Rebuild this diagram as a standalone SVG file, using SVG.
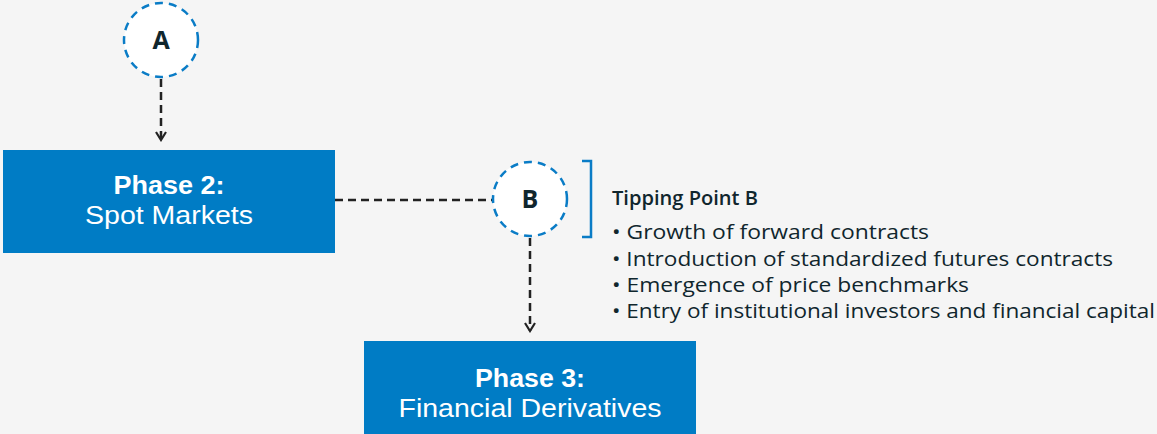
<svg xmlns="http://www.w3.org/2000/svg" width="1157" height="434" viewBox="0 0 1157 434">
<style>
.box{fill:#007cc5}
.circ{fill:#ffffff;stroke:#0a7cc6;stroke-width:2.5;stroke-dasharray:8 6}
.t1{font-family:"Liberation Sans",Arial,sans-serif;font-size:26px;fill:#ffffff;text-anchor:middle}
.b{font-weight:bold}
.lbl{font-family:"Open Sans",Lato,sans-serif;font-size:25px;font-weight:bold;fill:#10262d;text-anchor:middle}
.conn{fill:none;stroke:#222222;stroke-width:2.5;stroke-dasharray:8 5}
.txt{font-family:"Open Sans",Lato,sans-serif;font-size:20px;fill:#10262d}
</style>
<defs>
<marker id="arr" viewBox="0 0 12 12" refX="10" refY="6" markerWidth="12" markerHeight="12" markerUnits="userSpaceOnUse" orient="auto">
<path d="M2,1 L10,6 L2,11" fill="none" stroke="#222222" stroke-width="2.2"/>
</marker>
</defs>
<rect width="1157" height="434" fill="#f5f5f5"/>
<g id="connectors">
<line class="conn" x1="161" y1="79" x2="161" y2="140" marker-end="url(#arr)"/>
<line class="conn" x1="335" y1="200" x2="492" y2="200"/>
<line class="conn" x1="530" y1="238" x2="530" y2="331" marker-end="url(#arr)"/>
</g>
<g id="nodeA">
<circle class="circ" cx="161" cy="40" r="37"/>
<text class="lbl" x="161" y="49">A</text>
</g>
<g id="phase2">
<rect class="box" x="3" y="150" width="332" height="103"/>
<text class="t1 b" x="169" y="194" textLength="111" lengthAdjust="spacingAndGlyphs">Phase 2:</text>
<text class="t1" x="169" y="224" textLength="168" lengthAdjust="spacingAndGlyphs">Spot Markets</text>
</g>
<g id="nodeB">
<circle class="circ" cx="530" cy="199" r="37"/>
<text class="lbl" x="530" y="208">B</text>
</g>
<g id="tipping">
<path d="M582,161 H591 V237 H582" fill="none" stroke="#0a7cc6" stroke-width="2.5"/>
<text class="txt" x="612" y="205" style="font-weight:600" textLength="146" lengthAdjust="spacingAndGlyphs">Tipping Point B</text>
<text class="txt" x="612" y="239" textLength="317" lengthAdjust="spacingAndGlyphs">• Growth of forward contracts</text>
<text class="txt" x="612" y="266" textLength="501" lengthAdjust="spacingAndGlyphs">• Introduction of standardized futures contracts</text>
<text class="txt" x="612" y="292" textLength="357" lengthAdjust="spacingAndGlyphs">• Emergence of price benchmarks</text>
<text class="txt" x="612" y="318" textLength="543" lengthAdjust="spacingAndGlyphs">• Entry of institutional investors and financial capital</text>
</g>
<g id="phase3">
<rect class="box" x="364" y="341" width="332" height="100"/>
<text class="t1 b" x="530" y="387" textLength="110" lengthAdjust="spacingAndGlyphs">Phase 3:</text>
<text class="t1" x="530" y="417" textLength="263" lengthAdjust="spacingAndGlyphs">Financial Derivatives</text>
</g>
</svg>
